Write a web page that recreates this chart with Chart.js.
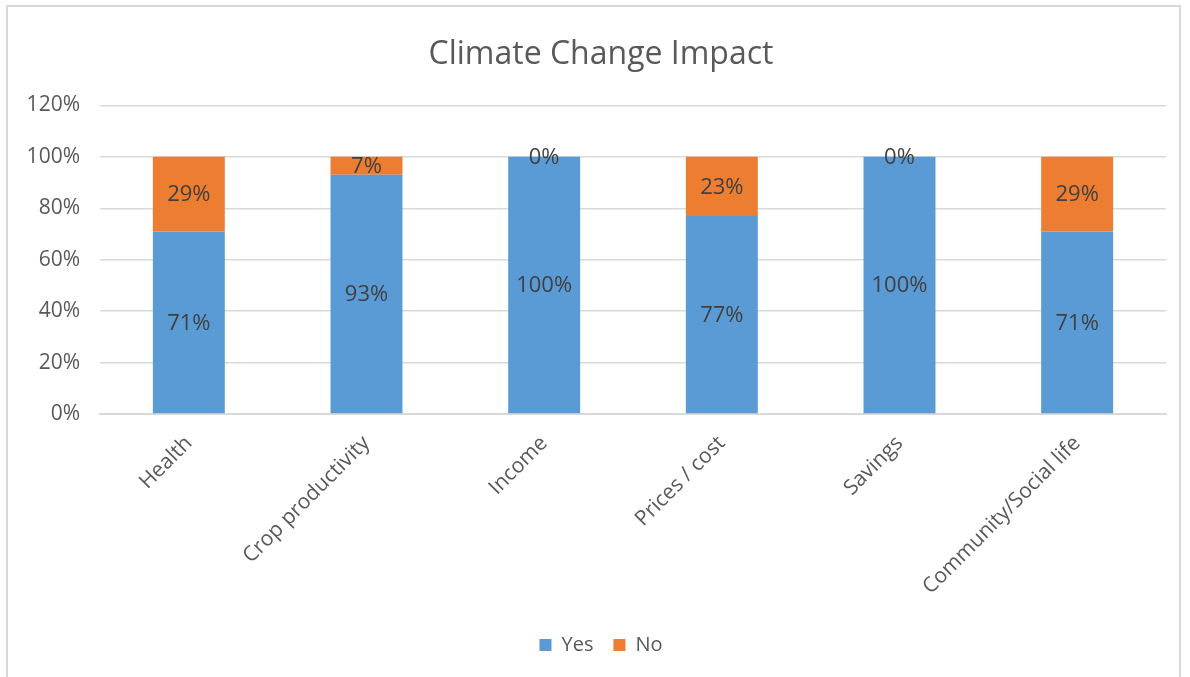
<!DOCTYPE html>
<html>
<head>
<meta charset="utf-8">
<script src="https://cdn.jsdelivr.net/npm/chart.js@4/dist/chart.umd.min.js"></script>
<style>
  html, body { margin: 0; padding: 0; background: #ffffff; }
  body { width: 1190px; height: 677px; position: relative; overflow: hidden; }
  #frame {
    position: absolute; left: 6px; top: 5px; width: 1175px; height: 690px;
    border: 2px solid #d9d9d9; box-sizing: border-box;
  }
  #wrap { position: absolute; left: 0; top: 0; width: 1190px; height: 677px; }
</style>
</head>
<body>
<div id="frame"></div>
<div id="wrap"><canvas id="chart" width="1190" height="677"></canvas></div>
<script>
const categories = ['Health', 'Crop productivity', 'Income', 'Prices / cost', 'Savings', 'Community/Social life'];
const yesValues = [71, 93, 100, 77, 100, 71];
const noValues = [29, 7, 0, 23, 0, 29];
const tickValues = [0, 20, 40, 60, 80, 100, 120];

const FONT = "'Open Sans', 'DejaVu Sans', sans-serif";
const TEXT = '#595959';

// Writes each segment's percentage at the centre of its bar segment
const segmentLabels = {
  id: 'segmentLabels',
  afterDatasetsDraw(chart) {
    const ctx = chart.ctx;
    ctx.save();
    ctx.font = '22px ' + FONT;
    ctx.fillStyle = '#404040';
    ctx.textAlign = 'center';
    ctx.textBaseline = 'middle';
    chart.data.datasets.forEach((ds, di) => {
      const meta = chart.getDatasetMeta(di);
      meta.data.forEach((bar, i) => {
        const p = bar.getProps(['x', 'y', 'base'], true);
        ctx.fillText(ds.data[i] + '%', p.x, (p.y + p.base) / 2 + 1);
      });
    });
    ctx.restore();
  }
};

new Chart(document.getElementById('chart'), {
  type: 'bar',
  data: {
    labels: categories,
    datasets: [
      { label: 'Yes', data: yesValues, backgroundColor: '#5b9bd5', barPercentage: 0.405, categoryPercentage: 1 },
      { label: 'No', data: noValues, backgroundColor: '#ed7d31', barPercentage: 0.405, categoryPercentage: 1 }
    ]
  },
  options: {
    responsive: false,
    animation: false,
    layout: { padding: { left: 12, right: 0, top: 0, bottom: 12 } },
    plugins: {
      title: {
        display: true,
        text: 'Climate Change Impact',
        color: TEXT,
        font: { family: FONT, size: 32, weight: 'normal' },
        padding: { top: 36, bottom: 31 }
      },
      legend: {
        position: 'bottom',
        labels: {
          color: TEXT,
          font: { family: FONT, size: 20 },
          boxWidth: 12,
          boxHeight: 12,
          padding: 20
        }
      },
      tooltip: { enabled: false }
    },
    scales: {
      x: {
        stacked: true,
        grid: { display: false, drawTicks: false },
        border: { display: true, color: '#d9d9d9', width: 2 },
        ticks: {
          color: TEXT,
          font: { family: FONT, size: 21 },
          minRotation: 45,
          maxRotation: 45,
          padding: 17
        },
        afterFit(scale) { scale.height = 201; }
      },
      y: {
        stacked: true,
        min: 0,
        max: 120,
        grid: { color: '#d9d9d9', lineWidth: 1.5, drawTicks: false },
        border: { display: false },
        afterBuildTicks(scale) { scale.ticks = tickValues.map(v => ({ value: v })); },
        ticks: {
          color: TEXT,
          font: { family: FONT, size: 21 },
          padding: 20,
          callback: v => v + '%'
        },
        afterFit(scale) { scale.width = 88; }
      },
      // empty right-hand margin beside the plot
      spacer: {
        type: 'linear',
        position: 'right',
        min: 0,
        max: 1,
        grid: { display: false, drawTicks: false },
        border: { display: false },
        ticks: { display: false },
        afterFit(scale) { scale.width = 24; }
      }
    }
  },
  plugins: [segmentLabels]
});
</script>
</body>
</html>
